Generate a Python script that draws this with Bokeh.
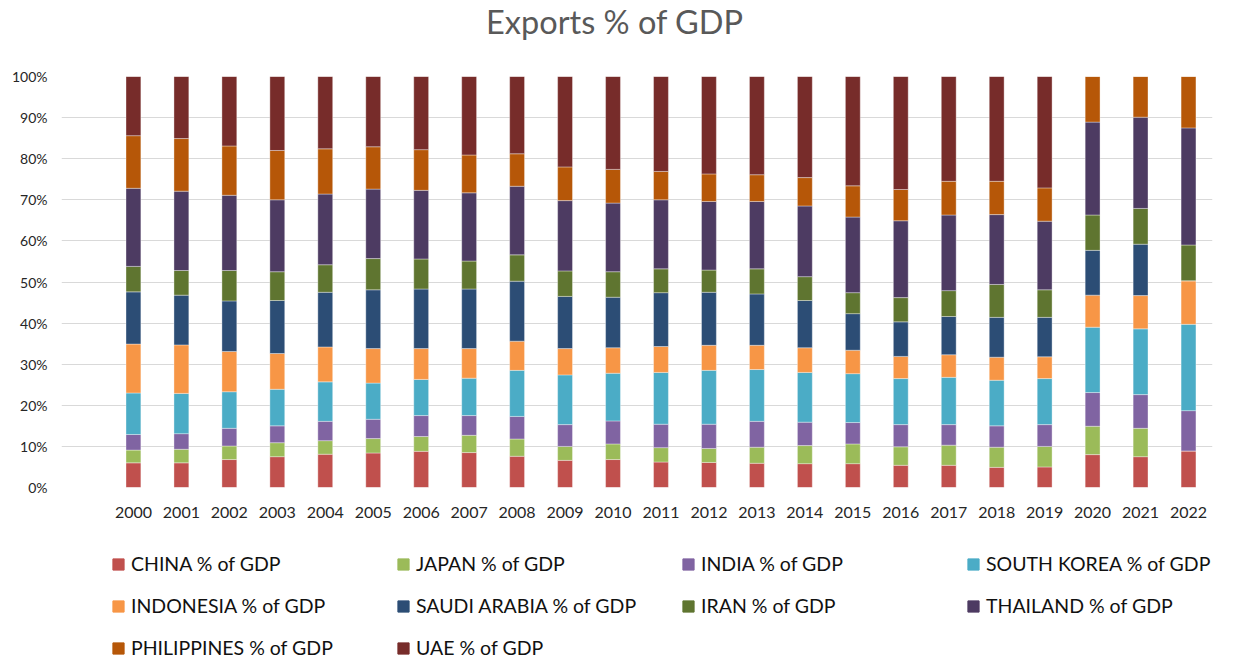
from bokeh.plotting import figure
from bokeh.layouts import column
from bokeh.models import (ColumnDataSource, Range1d, FixedTicker, NumeralTickFormatter,
                          Legend, LegendItem, Label)
from bokeh.embed import file_html
from bokeh.resources import INLINE

# ---- data (share of the ten-country total, %) ----
years = [2000, 2001, 2002, 2003, 2004, 2005, 2006, 2007, 2008, 2009, 2010, 2011,
         2012, 2013, 2014, 2015, 2016, 2017, 2018, 2019, 2020, 2021, 2022]
china = [6.0, 6.0, 6.8, 7.5, 8.1, 8.4, 8.8, 8.5, 7.6, 6.6, 6.8, 6.2, 6.1, 5.9, 5.8, 5.8,
         5.4, 5.4, 4.9, 5.0, 8.0, 7.5, 8.9]
japan = [3.1, 3.3, 3.3, 3.4, 3.3, 3.5, 3.6, 4.2, 4.2, 3.4, 3.8, 3.5, 3.4, 3.9, 4.4, 4.8,
         4.5, 4.9, 4.9, 5.0, 6.9, 6.9, 0.0]
india = [3.8, 3.8, 4.3, 4.1, 4.7, 4.7, 5.1, 4.8, 5.5, 5.3, 5.6, 5.7, 5.9, 6.3, 5.7, 5.2,
         5.4, 5.0, 5.2, 5.3, 8.2, 8.2, 9.8]
south_korea = [10.1, 9.8, 8.9, 8.9, 9.6, 8.8, 8.8, 9.1, 11.2, 12.1, 11.6, 12.6, 13.1, 12.6,
               12.1, 11.9, 11.2, 11.5, 11.1, 11.2, 15.9, 16.0, 21.0]
indonesia = [11.9, 11.8, 9.8, 8.7, 8.5, 8.4, 7.5, 7.2, 7.1, 6.4, 6.2, 6.3, 6.1, 5.9, 6.0,
             5.7, 5.4, 5.5, 5.6, 5.3, 7.8, 8.1, 10.6]
saudi_arabia = [12.7, 12.1, 12.3, 12.9, 13.3, 14.3, 14.5, 14.5, 14.6, 12.7, 12.3, 13.1, 12.9,
                12.5, 11.5, 8.9, 8.4, 9.3, 9.7, 9.6, 10.9, 12.5, 0.0]
iran = [6.2, 6.0, 7.4, 7.0, 6.7, 7.6, 7.3, 6.8, 6.4, 6.2, 6.2, 5.8, 5.4, 6.1, 5.8, 5.1,
        5.9, 6.3, 8.0, 6.7, 8.6, 8.7, 8.7]
thailand = [19.0, 19.3, 18.3, 17.5, 17.2, 16.9, 16.7, 16.6, 16.7, 17.1, 16.7, 16.8, 16.7,
            16.4, 17.2, 18.4, 18.7, 18.4, 17.0, 16.7, 22.6, 22.2, 28.5]
philippines = [12.8, 12.8, 12.0, 12.0, 11.0, 10.3, 9.9, 9.2, 7.9, 8.2, 8.2, 6.9, 6.7, 6.5,
               6.9, 7.6, 7.6, 8.2, 8.1, 8.1, 11.1, 9.9, 12.5]
uae = [14.4, 15.1, 16.9, 18.0, 17.6, 17.1, 17.8, 19.1, 18.8, 22.0, 22.6, 23.1, 23.7, 23.9,
       24.6, 26.6, 27.5, 25.5, 25.5, 27.1, 0.0, 0.0, 0.0]

title_text = "Exports % of GDP"
series_names = ["CHINA % of GDP", "JAPAN % of GDP", "INDIA % of GDP", "SOUTH KOREA % of GDP",
                "INDONESIA % of GDP", "SAUDI ARABIA % of GDP", "IRAN % of GDP",
                "THAILAND % of GDP", "PHILIPPINES % of GDP", "UAE % of GDP"]
series_values = [china, japan, india, south_korea, indonesia, saudi_arabia, iran, thailand,
                 philippines, uae]
colors = ["#C0504D", "#9BBB59", "#8064A2", "#4BACC6", "#F79646", "#2C4D75", "#5F7530",
          "#4D3B62", "#B65708", "#772C2A"]
y_ticks = [0.0, 0.1, 0.2, 0.3, 0.4, 0.5, 0.6, 0.7, 0.8, 0.9, 1.0]

FONT = "Lato"
W = 1218

# 100% stacked: normalise each year to its total
totals = [sum(vals[i] for vals in series_values) for i in range(len(years))]
keys = ["s%d" % k for k in range(len(series_names))]
data = {"year": years}
for k, vals in zip(keys, series_values):
    data[k] = [v / t for v, t in zip(vals, totals)]
source = ColumnDataSource(data)

x_lo, x_hi = years[0] - 1.5, years[-1] + 0.5

# ---------------- title strip ----------------
pt = figure(width=W, height=50, output_backend="svg", toolbar_location=None,
            x_range=Range1d(0, 1), y_range=Range1d(0, 1),
            x_axis_location=None, y_axis_location=None,
            min_border_left=0, min_border_right=0, min_border_top=0, min_border_bottom=0)
pt.grid.visible = False
pt.outline_line_color = None
pt.border_fill_color = "white"
pt.background_fill_color = "white"
pt.add_layout(Label(x=553.4, y=29, x_units="screen", y_units="screen", text=title_text,
                    text_align="center", text_baseline="alphabetic", text_font=FONT,
                    text_font_size="32.5px", text_color="#595959"))

# ---------------- main chart ----------------
p = figure(width=W, height=477, output_backend="svg", toolbar_location=None,
           x_range=Range1d(x_lo, x_hi), y_range=Range1d(0, 1),
           min_border_left=61, min_border_right=6, min_border_top=26, min_border_bottom=40)

renderers = p.vbar_stack(keys, x="year", width=0.31, source=source, color=colors,
                         line_color="white", line_width=0.6, line_alpha=0.6)

p.xaxis.ticker = FixedTicker(ticks=years)
p.yaxis.ticker = FixedTicker(ticks=y_ticks)
p.yaxis.formatter = NumeralTickFormatter(format="0%")
for ax in (p.xaxis[0], p.yaxis[0]):
    ax.axis_line_color = None
    ax.major_tick_line_color = None
    ax.minor_tick_line_color = None
    ax.major_tick_in = 0
    ax.major_tick_out = 0
    ax.minor_tick_in = 0
    ax.minor_tick_out = 0
    ax.major_label_text_font = FONT
    ax.major_label_text_color = "#262626"
p.xaxis.major_label_text_font_size = "16px"
p.xaxis.major_label_standoff = 19
p.yaxis.major_label_text_font_size = "14px"
p.yaxis.major_label_standoff = 14

p.xgrid.grid_line_color = None
p.ygrid.grid_line_color = "#D9D9D9"
p.ygrid.grid_line_width = 1.2
p.outline_line_color = None
p.background_fill_color = "white"
p.border_fill_color = "white"

# ---------------- legend strip ----------------
pl = figure(width=W, height=131, output_backend="svg", toolbar_location=None,
            x_range=Range1d(x_lo, x_hi), y_range=Range1d(5, 6),
            x_axis_location=None, y_axis_location=None,
            min_border_left=0, min_border_right=0, min_border_top=0, min_border_bottom=0)
pl.grid.visible = False
pl.outline_line_color = None
pl.border_fill_color = "white"
pl.background_fill_color = "white"

# legend swatches share the data source; their values lie below this strip's y range
proxies = [pl.vbar(x="year", top=k, width=0.31, source=source, color=c)
           for k, c in zip(keys, colors)]
items = [LegendItem(label=name, renderers=[r]) for name, r in zip(series_names, proxies)]
legend = Legend(items=items, location=(50, -1), orientation="horizontal", ncols=4,
                glyph_width=14, glyph_height=14, label_height=20, label_width=246,
                label_standoff=6, spacing=19, padding=0, margin=0,
                label_text_font=FONT, label_text_font_size="19.5px", label_text_color="#111111",
                border_line_alpha=0, background_fill_alpha=0)
pl.add_layout(legend, "center")

layout = column(pt, p, pl, spacing=0)
open("out.html", "w").write(file_html(layout, INLINE))
